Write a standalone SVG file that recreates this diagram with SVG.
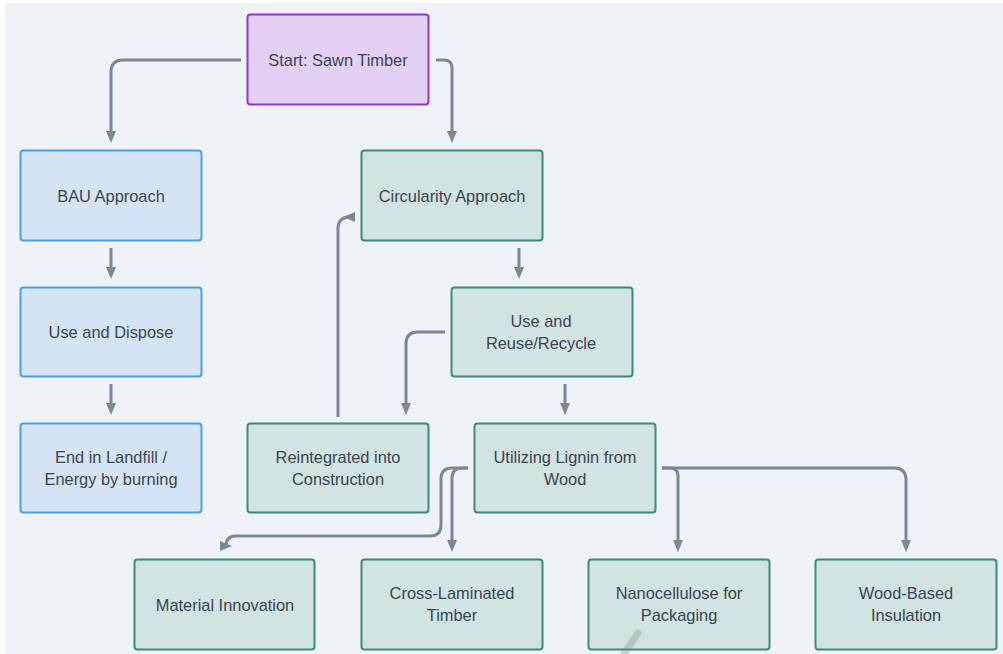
<svg xmlns="http://www.w3.org/2000/svg" width="1003" height="654" viewBox="0 0 1003 654">
<defs>
<style>
.n rect{stroke-width:2}
.start rect{fill:#e4d0f4;stroke:#9333d9}
.bau rect{fill:#d5e5f5;stroke:#4d9fe3}
.circ rect{fill:#d2e4e1;stroke:#3d8c76}
text{font-family:"Liberation Sans",Arial,sans-serif;font-size:16.4px;fill:#3a4550;text-anchor:middle;dominant-baseline:central}
.c path{fill:none;stroke:#7a8999;stroke-width:3}
</style>
<marker id="ah" markerWidth="12" markerHeight="10" viewBox="0 0 12 10" refX="6" refY="5" orient="auto" markerUnits="userSpaceOnUse">
<path d="M0,0 L12,5 L0,10 Z" fill="#7a8999"/>
</marker>
</defs>
<rect x="0" y="0" width="1003" height="654" fill="#ffffff"/>
<rect x="5" y="3" width="998" height="651" fill="#eff3f7"/>
<g class="c" id="connectors">
<path d="M241,60 H123 Q111,60 111,72 V137" marker-end="url(#ah)"/>
<path d="M436,60 H444 Q452,60 452,68 V137" marker-end="url(#ah)"/>
<path d="M111,248 V273" marker-end="url(#ah)"/>
<path d="M111,384 V409" marker-end="url(#ah)"/>
<path d="M519,248 V273" marker-end="url(#ah)"/>
<path d="M445,332 H418 Q406,332 406,344 V409" marker-end="url(#ah)"/>
<path d="M565,384 V409" marker-end="url(#ah)"/>
<path d="M338,417 V229 Q338,217 350,217 H349" marker-end="url(#ah)"/>
<path d="M468,468 H452 Q441,468 441,479 V525 Q441,536 430,536 H236 Q226,536 226,546 V546" marker-end="url(#ah)"/>
<path d="M468,468 H462 Q452,468 452,478 V546" marker-end="url(#ah)"/>
<path d="M662,468 H670 Q678,468 678,476 V546" marker-end="url(#ah)"/>
<path d="M662,468 H894 Q906,468 906,480 V546" marker-end="url(#ah)"/>
</g>
<g class="n start" id="start"><rect x="247.5" y="14.5" width="181" height="90" rx="3"/><text x="338" y="60">Start: Sawn Timber</text></g>
<g class="n bau" id="bau"><rect x="20.5" y="150.5" width="181" height="90" rx="3"/><text x="111" y="196">BAU Approach</text></g>
<g class="n circ" id="circularity"><rect x="361.5" y="150.5" width="181" height="90" rx="3"/><text x="452" y="196">Circularity Approach</text></g>
<g class="n bau" id="use-dispose"><rect x="20.5" y="287.5" width="181" height="89" rx="3"/><text x="111" y="332">Use and Dispose</text></g>
<g class="n circ" id="use-reuse"><rect x="451.5" y="287.5" width="181" height="89" rx="3"/><text x="541" y="321">Use and</text><text x="541" y="343">Reuse/Recycle</text></g>
<g class="n bau" id="landfill"><rect x="20.5" y="423.5" width="181" height="89" rx="3"/><text x="111" y="457">End in Landfill /</text><text x="111" y="479">Energy by burning</text></g>
<g class="n circ" id="reintegrated"><rect x="247.5" y="423.5" width="181" height="89" rx="3"/><text x="338" y="457">Reintegrated into</text><text x="338" y="479">Construction</text></g>
<g class="n circ" id="lignin"><rect x="474.5" y="423.5" width="181" height="89" rx="3"/><text x="565" y="457">Utilizing Lignin from</text><text x="565" y="479">Wood</text></g>
<g class="n circ" id="material"><rect x="134.5" y="559.5" width="180" height="90" rx="3"/><text x="225" y="605">Material Innovation</text></g>
<g class="n circ" id="clt"><rect x="361.5" y="559.5" width="181" height="90" rx="3"/><text x="452" y="593">Cross-Laminated</text><text x="452" y="615">Timber</text></g>
<g class="n circ" id="nano"><rect x="588.5" y="559.5" width="181" height="90" rx="3"/><text x="679" y="593">Nanocellulose for</text><text x="679" y="615">Packaging</text></g>
<g class="n circ" id="insulation"><rect x="815.5" y="559.5" width="181" height="90" rx="3"/><text x="906" y="593">Wood-Based</text><text x="906" y="615">Insulation</text></g>
<path d="M638,633 L624,654" stroke="#7d8c89" stroke-opacity="0.35" stroke-width="7" stroke-linecap="round"/>
</svg>
